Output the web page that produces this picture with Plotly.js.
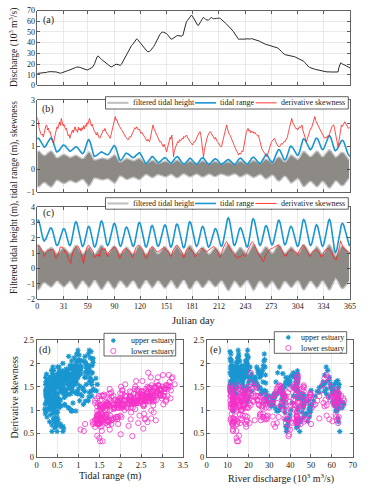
<!DOCTYPE html>
<html><head><meta charset="utf-8">
<script src="https://cdn.plot.ly/plotly-3.0.1.min.js"></script>
<style>html,body{margin:0;padding:0;background:#fff}#chart{width:368px;height:492px}</style>
</head><body><div id="chart"></div>
<script>
// ---------- DATA (daily, Julian day 0..365) ----------
const discharge = [
11.2,11.3,11.2,11.4,11.5,11.4,11.5,11.6,11.5,11.6,
11.8,12.2,12.6,12.8,12.7,12.8,12.9,12.8,12.9,13.0,
12.9,12.8,12.6,12.3,12.0,11.7,11.5,11.4,11.6,12.0,
12.3,12.6,12.9,13.2,13.5,13.7,13.9,14.2,14.3,14.5,
14.6,15.0,15.5,15.9,16.3,16.8,17.2,17.3,17.2,17.0,
16.8,16.5,16.0,15.5,15.1,14.8,14.6,14.5,14.4,14.6,
14.9,15.3,15.8,16.2,16.8,17.5,18.5,20.5,23.0,25.5,
27.0,27.6,27.0,26.0,25.0,24.3,23.6,23.0,22.3,21.5,
20.7,20.0,19.3,18.6,18.0,17.5,17.3,17.5,18.0,18.6,
19.2,19.6,19.9,19.7,19.4,19.2,18.9,18.8,19.5,21.0,
22.5,24.0,25.5,27.0,28.5,30.0,32.0,33.8,35.5,36.5,
37.3,38.0,39.0,40.2,41.5,42.8,43.5,43.0,42.0,41.0,
40.0,39.0,37.8,36.6,35.5,34.5,33.6,32.8,32.0,31.6,
31.5,31.8,32.4,33.2,34.0,35.0,36.5,38.0,39.8,41.5,
43.0,44.5,46.0,47.5,48.8,49.6,49.9,49.8,49.6,49.5,
49.2,48.5,47.5,46.3,45.0,44.0,43.4,43.2,43.8,44.6,
45.3,45.8,46.2,46.5,46.6,46.5,46.3,46.2,46.0,46.1,
47.0,50.0,54.0,57.5,59.5,60.5,61.5,63.0,64.5,65.5,
65.8,65.0,63.5,62.0,60.3,58.8,57.5,56.5,56.0,57.0,
58.5,60.0,61.5,63.2,63.8,63.0,62.0,61.4,61.2,61.0,
61.3,62.0,62.8,63.5,63.2,62.6,62.2,62.5,63.0,62.8,
62.7,63.0,63.3,63.0,62.4,61.8,61.0,60.2,59.5,58.8,
58.0,57.3,56.5,55.8,55.0,54.0,53.0,52.0,51.2,50.4,
49.0,47.8,46.5,45.0,43.6,43.0,43.3,43.6,43.4,43.2,
43.3,43.5,43.4,43.2,43.3,43.5,43.6,43.4,43.2,43.5,
43.8,43.6,43.2,43.0,42.8,42.6,42.5,42.3,42.0,41.5,
41.0,40.5,40.0,39.5,39.2,38.9,38.6,38.4,38.2,37.9,
37.7,37.5,37.3,37.2,37.0,36.7,36.4,36.1,35.8,35.5,
35.2,34.8,34.2,33.5,32.8,31.8,30.8,29.9,29.2,28.8,
28.6,28.5,28.4,28.3,28.2,28.0,27.8,27.6,27.4,27.2,
26.9,26.6,26.2,25.8,25.5,25.2,24.9,24.6,24.3,24.0,
23.4,22.6,21.6,20.5,19.5,18.6,17.8,17.2,16.8,16.4,
16.0,15.7,15.5,15.3,15.1,14.9,14.7,14.4,14.0,13.7,
13.5,13.3,13.2,13.0,12.8,12.8,12.9,12.8,12.7,12.8,
12.7,12.6,12.7,12.6,12.5,12.6,12.5,12.4,12.5,12.6,
12.5,12.6,16.5,19.8,21.0,20.8,20.0,19.6,19.4,19.0,
18.7,18.3,18.0,17.5,16.9,16.3];

// upper estuary (panel b): tidal range and derivative skewness
const rangeUpper = [
1.30,1.35,1.33,1.27,1.19,1.11,1.03,0.97,0.95,0.97,
1.01,1.07,1.15,1.23,1.29,1.33,1.35,1.32,1.24,1.12,
0.98,0.86,0.78,0.75,0.76,0.80,0.84,0.90,0.96,1.01,
1.04,1.05,1.04,1.00,0.94,0.89,0.83,0.79,0.78,0.79,
0.82,0.86,0.90,0.94,0.97,0.98,0.97,0.94,0.89,0.83,
0.77,0.73,0.69,0.68,0.71,0.79,0.91,1.05,1.17,1.25,
1.28,1.24,1.14,0.98,0.83,0.69,0.59,0.55,0.56,0.58,
0.61,0.65,0.69,0.72,0.74,0.75,0.74,0.73,0.70,0.67,
0.64,0.63,0.62,0.64,0.68,0.74,0.82,0.90,0.96,1.00,
1.02,0.99,0.90,0.77,0.63,0.50,0.41,0.38,0.40,0.44,
0.50,0.58,0.64,0.68,0.70,0.69,0.67,0.64,0.60,0.56,
0.53,0.51,0.50,0.51,0.54,0.59,0.63,0.68,0.71,0.72,
0.70,0.65,0.57,0.49,0.40,0.32,0.27,0.25,0.27,0.31,
0.37,0.43,0.49,0.54,0.55,0.54,0.50,0.44,0.39,0.33,
0.29,0.28,0.29,0.31,0.35,0.39,0.43,0.47,0.49,0.50,
0.49,0.45,0.40,0.35,0.30,0.26,0.25,0.27,0.31,0.37,
0.43,0.49,0.54,0.55,0.54,0.50,0.45,0.39,0.32,0.27,
0.23,0.22,0.23,0.27,0.32,0.38,0.43,0.47,0.48,0.47,
0.44,0.40,0.35,0.30,0.26,0.23,0.22,0.23,0.27,0.33,
0.39,0.45,0.49,0.50,0.49,0.45,0.39,0.33,0.27,0.23,
0.22,0.23,0.25,0.29,0.34,0.38,0.42,0.44,0.45,0.44,
0.41,0.36,0.31,0.26,0.23,0.22,0.23,0.25,0.28,0.32,
0.36,0.39,0.41,0.42,0.41,0.38,0.33,0.29,0.24,0.21,
0.20,0.21,0.25,0.31,0.37,0.43,0.47,0.48,0.47,0.44,
0.40,0.35,0.30,0.26,0.23,0.22,0.24,0.28,0.34,0.40,
0.46,0.51,0.52,0.51,0.48,0.44,0.39,0.33,0.29,0.26,
0.25,0.27,0.33,0.41,0.49,0.57,0.63,0.65,0.63,0.58,
0.51,0.44,0.37,0.32,0.30,0.32,0.38,0.47,0.58,0.68,
0.77,0.83,0.85,0.83,0.76,0.67,0.58,0.49,0.42,0.40,
0.43,0.51,0.63,0.77,0.89,0.97,1.00,0.98,0.94,0.88,
0.80,0.72,0.66,0.62,0.60,0.64,0.74,0.88,1.04,1.18,
1.28,1.32,1.30,1.25,1.17,1.09,1.00,0.92,0.87,0.85,
0.88,0.95,1.05,1.16,1.26,1.33,1.35,1.33,1.26,1.16,
1.05,0.95,0.88,0.85,0.87,0.94,1.04,1.15,1.26,1.36,
1.43,1.45,1.42,1.33,1.20,1.05,0.92,0.83,0.80,0.82,
0.87,0.94,1.03,1.11,1.18,1.23,1.25,1.23,1.17,1.08,
0.96,0.84,0.73,0.63,0.57,0.55];

const skewUpper = [
2.25,2.10,1.80,1.62,1.55,1.48,1.52,1.40,1.58,1.75,
1.88,1.92,1.70,1.78,1.60,1.63,1.42,1.30,1.20,1.12,
1.35,1.55,1.70,1.84,1.76,1.95,2.05,1.90,2.20,2.05,
1.88,1.95,1.80,1.72,1.77,1.58,1.45,1.50,1.34,1.48,
1.62,1.70,1.58,1.75,1.84,1.68,1.72,1.60,1.82,1.70,
1.77,1.65,1.80,1.72,1.88,1.75,1.92,1.85,2.02,1.95,
2.12,2.20,2.05,1.88,1.95,1.75,1.70,1.63,1.55,1.48,
1.60,1.42,1.38,1.34,1.45,1.55,1.62,1.70,1.66,1.77,
1.64,1.58,1.50,1.42,1.38,1.34,1.48,1.65,1.85,2.05,
2.18,2.28,2.12,2.15,2.00,1.92,1.85,1.78,1.72,1.68,
1.63,1.55,1.48,1.40,1.35,1.30,1.27,1.35,1.42,1.38,
1.48,1.58,1.66,1.72,1.80,1.75,1.84,1.78,1.70,1.74,
1.62,1.55,1.60,1.52,1.48,1.40,1.35,1.28,1.22,1.30,
1.25,1.19,1.35,1.60,1.80,1.92,1.78,1.70,1.55,1.48,
1.40,1.32,1.25,1.18,1.20,1.10,1.05,0.98,1.08,0.95,
0.85,0.76,0.92,1.10,1.25,1.38,1.30,1.48,1.05,0.54,
0.80,0.95,1.05,1.12,1.20,1.15,1.28,1.22,1.27,1.35,
1.30,1.42,1.38,1.45,1.48,1.40,1.32,1.25,1.18,1.15,
1.12,1.05,1.12,1.20,1.18,1.28,1.34,1.40,1.52,1.58,
1.63,1.45,1.10,0.75,0.54,0.82,1.05,1.15,1.34,1.45,
1.55,1.60,1.63,1.55,1.48,1.40,1.35,1.30,1.38,1.27,
1.20,1.15,1.08,1.02,0.98,0.98,1.15,1.35,1.55,1.70,
1.85,1.92,1.75,1.60,1.52,1.48,1.40,1.30,1.20,1.12,
1.02,0.92,0.85,0.75,0.68,0.62,0.70,0.65,0.72,0.80,
0.76,1.00,1.25,1.45,1.60,1.70,1.77,1.65,1.70,1.58,
1.66,1.60,1.63,1.55,1.60,1.52,1.50,1.45,1.48,1.30,
1.15,1.00,0.90,0.82,0.76,0.70,0.65,0.60,0.54,0.65,
0.80,0.95,1.05,1.15,1.22,1.28,1.30,1.34,1.22,1.10,
1.05,1.00,0.98,0.98,1.05,1.12,1.08,1.15,1.20,1.18,
1.25,1.27,1.40,1.58,1.75,1.92,2.08,2.20,2.05,1.95,
1.88,1.82,1.75,1.77,1.70,1.78,1.85,1.80,1.88,1.92,
1.70,1.55,1.40,1.28,1.19,1.30,1.45,1.55,1.68,1.77,
1.77,1.90,2.05,2.15,2.28,2.10,2.02,1.95,1.88,1.80,
1.77,1.65,1.55,1.48,1.40,1.36,1.34,1.40,1.38,1.45,
1.41,1.55,1.68,1.80,1.85,1.90,1.92,1.75,1.55,1.35,
1.15,0.98,1.20,1.45,1.70,1.92,1.85,1.95,2.00,2.06,
1.98,1.90,1.85,1.77,1.80,1.84];

// lower estuary (panel c): tidal range and derivative skewness
const rangeLower = [
3.05,3.15,3.08,2.89,2.62,2.33,2.06,1.87,1.80,1.84,
1.92,2.07,2.22,2.40,2.51,2.63,2.65,2.59,2.43,2.20,
1.95,1.72,1.56,1.50,1.54,1.67,1.84,2.05,2.26,2.44,
2.56,2.60,2.55,2.39,2.17,1.93,1.71,1.56,1.50,1.58,
1.79,2.10,2.45,2.76,2.97,3.05,2.99,2.81,2.55,2.25,
1.95,1.69,1.51,1.45,1.52,1.70,1.96,2.24,2.50,2.69,
2.75,2.68,2.49,2.22,1.93,1.66,1.47,1.40,1.47,1.66,
1.93,2.25,2.57,2.85,3.03,3.10,3.02,2.80,2.48,2.12,
1.80,1.58,1.50,1.56,1.72,1.95,2.23,2.50,2.73,2.89,
2.95,2.88,2.67,2.37,2.04,1.74,1.53,1.45,1.51,1.69,
1.94,2.21,2.46,2.64,2.70,2.65,2.51,2.31,2.08,1.84,
1.64,1.50,1.45,1.53,1.74,2.05,2.40,2.71,2.92,3.00,
2.94,2.76,2.50,2.20,1.90,1.64,1.46,1.40,1.47,1.67,
1.95,2.25,2.53,2.73,2.80,2.73,2.54,2.27,1.98,1.71,
1.52,1.45,1.51,1.66,1.88,2.15,2.42,2.64,2.79,2.85,
2.78,2.57,2.28,1.97,1.68,1.47,1.40,1.48,1.69,1.99,
2.32,2.62,2.83,2.90,2.84,2.67,2.42,2.13,1.83,1.58,
1.41,1.35,1.44,1.67,2.01,2.39,2.73,2.97,3.05,2.99,
2.81,2.55,2.25,1.95,1.69,1.51,1.45,1.52,1.70,1.96,
2.24,2.50,2.69,2.75,2.68,2.49,2.22,1.93,1.66,1.47,
1.40,1.45,1.58,1.77,2.00,2.23,2.42,2.55,2.60,2.54,
2.38,2.15,1.90,1.67,1.51,1.45,1.52,1.73,2.02,2.38,
2.73,3.02,3.23,3.30,3.21,2.96,2.60,2.20,1.84,1.59,
1.50,1.56,1.72,1.95,2.20,2.43,2.59,2.65,2.60,2.46,
2.26,2.03,1.79,1.59,1.45,1.40,1.49,1.75,2.12,2.53,
2.90,3.16,3.25,3.18,2.99,2.71,2.38,2.04,1.76,1.57,
1.50,1.57,1.75,2.01,2.29,2.55,2.74,2.80,2.74,2.56,
2.31,2.04,1.79,1.61,1.55,1.61,1.79,2.05,2.35,2.65,
2.91,3.09,3.15,3.07,2.85,2.53,2.17,1.85,1.63,1.55,
1.61,1.78,2.02,2.28,2.52,2.69,2.75,2.70,2.56,2.35,
2.10,1.85,1.65,1.50,1.45,1.54,1.78,2.13,2.52,2.87,
3.11,3.20,3.13,2.95,2.67,2.35,2.03,1.76,1.57,1.50,
1.57,1.76,2.03,2.32,2.59,2.78,2.85,2.78,2.58,2.30,
2.00,1.72,1.52,1.45,1.52,1.71,1.99,2.33,2.66,2.94,
3.13,3.20,3.09,2.79,2.36,1.89,1.46,1.16,1.05,1.13,
1.34,1.64,2.00,2.36,2.67,2.87,2.95,2.91,2.78,2.59,
2.36,2.09,1.86,1.67,1.54,1.50];

const skewLower = [
1.45,1.53,1.48,1.40,1.30,1.20,1.12,1.05,0.78,0.82,
1.05,1.12,1.18,1.15,1.22,1.20,1.25,1.22,1.28,1.20,
1.05,0.75,0.66,0.70,0.92,1.15,1.30,1.42,1.38,1.40,
1.32,1.25,1.10,1.15,1.05,0.80,0.68,0.55,0.40,0.33,
0.70,1.00,1.15,1.25,1.31,1.38,1.42,1.48,1.40,1.30,
1.18,1.00,0.72,0.45,0.33,0.75,1.05,1.25,1.40,1.48,
1.53,1.45,1.35,1.28,1.20,1.12,0.88,0.72,0.78,0.90,
0.85,0.80,0.92,0.78,1.12,1.22,1.31,1.28,1.20,1.31,
1.15,1.05,0.76,1.05,1.10,1.10,1.20,1.28,1.35,1.40,
1.42,1.38,1.30,1.18,1.05,0.78,0.64,0.70,0.85,1.10,
1.18,1.22,1.28,1.31,1.30,1.25,1.20,1.15,1.08,1.02,
0.82,0.72,0.80,1.10,1.22,1.35,1.42,1.48,1.53,1.50,
1.45,1.38,1.30,1.20,1.10,0.85,0.72,0.64,0.70,0.86,
1.12,1.22,1.32,1.38,1.42,1.40,1.32,1.25,1.18,1.12,
1.10,1.08,1.12,1.18,1.22,1.28,1.32,1.35,1.36,1.32,
1.28,1.22,1.15,1.10,0.90,0.82,0.78,0.88,1.15,1.25,
1.35,1.45,1.50,1.53,1.48,1.40,1.32,1.22,1.12,1.05,
0.80,0.70,0.82,1.10,1.20,1.28,1.31,1.35,1.30,1.25,
1.20,1.12,1.05,0.85,0.76,0.80,0.88,1.08,1.15,1.22,
1.28,1.31,1.30,1.25,1.20,1.18,1.15,1.12,1.10,1.15,
1.20,1.25,1.30,1.35,1.36,1.40,1.45,1.36,1.30,1.22,
1.15,1.05,0.85,0.72,0.78,0.90,1.20,1.35,1.50,1.62,
1.70,1.75,1.68,1.55,1.42,1.30,1.20,1.12,1.10,1.05,
0.88,0.80,0.75,0.70,0.66,0.72,0.80,0.74,0.82,0.88,
0.95,0.85,0.78,0.86,0.98,1.15,1.30,1.45,1.55,1.62,
1.70,1.75,1.70,1.60,1.45,1.32,1.20,1.10,1.00,0.80,
0.72,0.75,0.58,0.48,0.44,0.60,0.82,0.95,0.99,1.08,
1.15,1.22,1.28,1.30,1.31,1.33,1.38,1.42,1.45,1.50,
1.52,1.53,1.50,1.45,1.35,1.25,1.15,1.05,0.88,0.80,
0.86,0.82,1.05,1.12,1.18,1.20,1.22,1.18,1.20,1.15,
1.10,1.05,1.08,0.92,0.86,1.10,1.20,1.30,1.40,1.48,
1.53,1.50,1.45,1.35,1.25,1.15,1.08,0.88,0.78,0.82,
0.90,1.08,1.12,1.18,1.20,1.22,1.20,1.18,1.12,1.05,
0.88,0.78,0.75,0.82,1.05,1.12,1.20,1.25,1.28,1.31,
1.30,1.25,1.18,1.10,1.02,0.82,0.72,0.70,0.58,0.55,
0.75,1.00,1.25,1.50,1.80,1.60,1.45,1.35,1.30,1.25,
1.22,1.20,1.12,1.05,1.00,0.99];

// filtered tidal height: max / min envelope every 2 days (day 0,2,...,364)
const heightUpperMax = [
.77,.79,.72,.63,.60,.62,.70,.76,.80,.74,
.61,.51,.50,.54,.60,.64,.64,.59,.53,.51,
.53,.57,.60,.60,.56,.50,.46,.47,.57,.70,
.76,.69,.53,.42,.40,.43,.46,.49,.49,.47,
.44,.43,.46,.53,.60,.63,.57,.44,.32,.32,
.37,.44,.47,.45,.42,.38,.37,.39,.43,.47,
.47,.40,.32,.26,.26,.30,.36,.39,.37,.31,
.26,.26,.29,.33,.36,.36,.32,.27,.24,.27,
.33,.39,.39,.34,.28,.23,.23,.28,.33,.36,
.34,.29,.25,.23,.25,.31,.36,.36,.31,.25,
.23,.24,.29,.33,.34,.32,.27,.23,.23,.26,
.30,.32,.32,.28,.24,.22,.24,.30,.35,.35,
.32,.27,.23,.24,.29,.35,.38,.36,.31,.26,
.24,.28,.36,.43,.43,.37,.30,.27,.31,.41,
.50,.54,.50,.41,.33,.33,.43,.56,.62,.59,
.52,.45,.42,.49,.64,.76,.77,.70,.62,.55,
.56,.64,.75,.79,.75,.64,.56,.55,.64,.75,
.83,.83,.72,.58,.52,.55,.63,.71,.74,.70,
.60,.48,.40];
const heightUpperMin = [
-.75,-.77,-.70,-.61,-.58,-.60,-.68,-.74,-.78,-.72,
-.59,-.49,-.48,-.52,-.58,-.62,-.62,-.57,-.51,-.49,
-.51,-.55,-.58,-.58,-.54,-.48,-.44,-.45,-.55,-.68,
-.74,-.67,-.51,-.40,-.38,-.41,-.44,-.47,-.47,-.45,
-.42,-.41,-.44,-.51,-.58,-.61,-.55,-.42,-.30,-.30,
-.35,-.42,-.45,-.43,-.40,-.36,-.35,-.37,-.41,-.45,
-.45,-.38,-.30,-.24,-.24,-.28,-.34,-.37,-.35,-.29,
-.24,-.24,-.27,-.31,-.34,-.34,-.30,-.25,-.22,-.25,
-.31,-.37,-.37,-.32,-.26,-.21,-.21,-.26,-.31,-.34,
-.32,-.27,-.23,-.21,-.23,-.29,-.34,-.34,-.29,-.23,
-.21,-.22,-.27,-.31,-.32,-.30,-.25,-.21,-.21,-.24,
-.28,-.30,-.30,-.26,-.22,-.20,-.22,-.28,-.33,-.33,
-.30,-.25,-.21,-.22,-.27,-.33,-.36,-.34,-.29,-.24,
-.22,-.26,-.34,-.41,-.41,-.35,-.28,-.25,-.29,-.39,
-.48,-.52,-.48,-.39,-.31,-.31,-.41,-.54,-.60,-.57,
-.50,-.43,-.40,-.47,-.62,-.74,-.75,-.68,-.60,-.53,
-.54,-.62,-.73,-.77,-.73,-.62,-.54,-.53,-.62,-.73,
-.81,-.81,-.70,-.56,-.50,-.53,-.61,-.69,-.72,-.68,
-.58,-.46,-.38];
const heightLowerMax = [
1.52,1.53,1.37,1.17,1.08,1.12,1.23,1.33,1.38,1.30,
1.13,1.00,0.99,1.09,1.24,1.35,1.34,1.21,1.05,0.98,
1.08,1.31,1.49,1.50,1.34,1.13,0.98,0.98,1.14,1.33,
1.41,1.32,1.13,0.96,0.96,1.13,1.35,1.51,1.51,1.32,
1.08,0.98,1.05,1.23,1.41,1.48,1.38,1.16,0.99,0.98,
1.13,1.31,1.40,1.33,1.18,1.02,0.96,1.06,1.29,1.47,
1.48,1.33,1.12,0.96,0.96,1.13,1.34,1.43,1.34,1.14,
0.98,0.98,1.11,1.30,1.43,1.42,1.25,1.04,0.94,1.04,
1.26,1.44,1.44,1.30,1.09,0.94,0.95,1.15,1.41,1.52,
1.43,1.24,1.04,0.96,1.05,1.23,1.39,1.39,1.23,1.03,
0.94,1.00,1.15,1.30,1.36,1.28,1.12,0.98,0.98,1.16,
1.41,1.58,1.57,1.36,1.09,0.98,1.05,1.22,1.36,1.36,
1.24,1.08,0.96,0.97,1.19,1.47,1.59,1.50,1.28,1.07,
0.98,1.06,1.25,1.41,1.41,1.26,1.08,0.99,1.08,1.27,
1.47,1.55,1.45,1.21,1.02,1.01,1.16,1.33,1.41,1.35,
1.19,1.03,0.96,1.07,1.33,1.54,1.55,1.38,1.16,1.00,
1.00,1.16,1.36,1.45,1.35,1.15,0.98,0.98,1.15,1.38,
1.55,1.53,1.28,0.96,0.82,0.92,1.15,1.38,1.48,1.42,
1.28,1.10,0.99];
const heightLowerMin = [
-1.37,-1.38,-1.22,-1.02,-0.93,-0.97,-1.08,-1.18,-1.23,-1.15,
-0.98,-0.85,-0.84,-0.94,-1.09,-1.20,-1.19,-1.06,-0.90,-0.83,
-0.93,-1.16,-1.34,-1.35,-1.19,-0.98,-0.83,-0.83,-0.99,-1.18,
-1.26,-1.17,-0.98,-0.81,-0.81,-0.98,-1.20,-1.36,-1.36,-1.17,
-0.93,-0.83,-0.90,-1.08,-1.26,-1.33,-1.23,-1.01,-0.84,-0.83,
-0.98,-1.16,-1.25,-1.18,-1.03,-0.87,-0.81,-0.91,-1.14,-1.32,
-1.33,-1.18,-0.97,-0.81,-0.81,-0.98,-1.19,-1.28,-1.19,-0.99,
-0.83,-0.83,-0.96,-1.15,-1.28,-1.27,-1.10,-0.89,-0.79,-0.89,
-1.11,-1.29,-1.29,-1.15,-0.94,-0.79,-0.80,-1.00,-1.26,-1.37,
-1.28,-1.09,-0.89,-0.81,-0.90,-1.08,-1.24,-1.24,-1.08,-0.88,
-0.79,-0.85,-1.00,-1.15,-1.21,-1.13,-0.97,-0.83,-0.83,-1.01,
-1.26,-1.43,-1.42,-1.21,-0.94,-0.83,-0.90,-1.07,-1.21,-1.21,
-1.09,-0.93,-0.81,-0.82,-1.04,-1.32,-1.44,-1.35,-1.13,-0.92,
-0.83,-0.91,-1.10,-1.26,-1.26,-1.11,-0.93,-0.84,-0.93,-1.12,
-1.32,-1.40,-1.30,-1.06,-0.87,-0.86,-1.01,-1.18,-1.26,-1.20,
-1.04,-0.88,-0.81,-0.92,-1.18,-1.39,-1.40,-1.23,-1.01,-0.85,
-0.85,-1.01,-1.21,-1.30,-1.20,-1.00,-0.83,-0.83,-1.00,-1.23,
-1.40,-1.38,-1.13,-0.81,-0.67,-0.77,-1.00,-1.23,-1.33,-1.27,
-1.13,-0.95,-0.84];

const dayTicks = [0,31,59,90,120,151,181,212,243,273,304,334,365];
const lineNames = ['filtered tidal height','tidal range','derivative skewness'];
const groupNames = ['upper estuary','lower estuary'];

// ---------- STYLE ----------
const W = 368, H = 492;
const X = px => px / W, Y = py => 1 - py / H;
const FONT = 'Liberation Serif, Times New Roman, serif';
const C_GRAY_EDGE = '#c3c3c3', C_GRAY_FILL = '#8d8985';
const C_BLUE = '#1a96d0', C_RED = '#ff2020', C_MAG = '#f531c8';
const TXT = '#222';

const days = discharge.map((_, i) => i);
const envDays = heightUpperMax.map((_, i) => 2 * i);

const traces = [];
// (a)
traces.push({x: days, y: discharge, xaxis: 'x', yaxis: 'y', mode: 'lines',
  line: {color: '#2a2a2a', width: 1}, showlegend: false});
// (b) and (c)
function tidePanel(xa, ya, hMin, hMax, rng, skw) {
  traces.push({x: envDays, y: hMin, xaxis: xa, yaxis: ya, mode: 'lines',
    line: {color: C_GRAY_EDGE, width: 1.4}, showlegend: false});
  traces.push({x: envDays, y: hMax, xaxis: xa, yaxis: ya, mode: 'lines', fill: 'tonexty',
    fillcolor: C_GRAY_FILL, line: {color: C_GRAY_EDGE, width: 1.4}, showlegend: false});
  traces.push({x: days, y: rng, xaxis: xa, yaxis: ya, mode: 'lines',
    line: {color: C_BLUE, width: 1.6}, showlegend: false});
  traces.push({x: days, y: skw, xaxis: xa, yaxis: ya, mode: 'lines',
    line: {color: C_RED, width: 0.8}, showlegend: false});
}
tidePanel('x2', 'y2', heightUpperMin, heightUpperMax, rangeUpper, skewUpper);
tidePanel('x3', 'y3', heightLowerMin, heightLowerMax, rangeLower, skewLower);
// (d) and (e)
const upMarker = {symbol: 'asterisk-open', size: 4.5, color: C_BLUE, line: {color: C_BLUE, width: 1.1}};
const loMarker = {symbol: 'circle-open', size: 5.2, color: C_MAG, line: {color: C_MAG, width: 0.8}};
traces.push({x: rangeUpper, y: skewUpper, xaxis: 'x4', yaxis: 'y4', mode: 'markers', marker: upMarker, showlegend: false});
traces.push({x: rangeLower, y: skewLower, xaxis: 'x4', yaxis: 'y4', mode: 'markers', marker: loMarker, showlegend: false});
traces.push({x: discharge, y: skewUpper, xaxis: 'x5', yaxis: 'y5', mode: 'markers', marker: upMarker, showlegend: false});
traces.push({x: discharge, y: skewLower, xaxis: 'x5', yaxis: 'y5', mode: 'markers', marker: loMarker, showlegend: false});

function ax(extra) {
  return Object.assign({
    showline: true, linecolor: '#3a3a3a', linewidth: 0.8, mirror: 'ticks',
    ticks: 'inside', ticklen: 3, tickwidth: 0.8, tickcolor: '#3a3a3a',
    showgrid: true, gridcolor: '#e1e1e1', gridwidth: 0.7, zeroline: false,
    tickfont: {family: FONT, size: 8, color: TXT}, fixedrange: true
  }, extra);
}
const xd = [X(37.3), X(350)];
const tf2 = {family: FONT, size: 8.5, color: TXT};
const layout = {
  width: W, height: H, margin: {l: 0, r: 0, t: 0, b: 0},
  paper_bgcolor: '#fff', plot_bgcolor: '#fff', showlegend: false,
  font: {family: FONT, color: TXT},
  xaxis:  ax({domain: xd, anchor: 'y',  range: [0, 365], tickvals: dayTicks, showticklabels: false}),
  yaxis:  ax({domain: [Y(85.4), Y(10.6)], anchor: 'x', range: [0, 70], dtick: 10}),
  xaxis2: ax({domain: xd, anchor: 'y2', range: [0, 365], tickvals: dayTicks, showticklabels: false}),
  yaxis2: ax({domain: [Y(192.3), Y(100)], anchor: 'x2', range: [-1, 3], dtick: 1}),
  xaxis3: ax({domain: xd, anchor: 'y3', range: [0, 365], tickvals: dayTicks}),
  yaxis3: ax({domain: [Y(299), Y(207.3)], anchor: 'x3', range: [-2, 4], dtick: 1}),
  xaxis4: ax({domain: [X(36.5), X(183)], anchor: 'y4', range: [0, 3.5], dtick: 0.5, tickfont: tf2}),
  yaxis4: ax({domain: [Y(456.7), Y(340)], anchor: 'x4', range: [0, 2.5], dtick: 0.5, tickfont: tf2}),
  xaxis5: ax({domain: [X(206.7), X(352.7)], anchor: 'y5', range: [0, 70], dtick: 10, tickfont: tf2}),
  yaxis5: ax({domain: [Y(456.7), Y(340)], anchor: 'x5', range: [0, 2.5], dtick: 0.5, tickfont: tf2}),
  shapes: [], annotations: []
};

function text(t, px, py, size, opts) {
  layout.annotations.push(Object.assign({text: t, x: X(px), y: Y(py), xref: 'paper', yref: 'paper',
    showarrow: false, font: {family: FONT, size: size, color: TXT}, xanchor: 'center', yanchor: 'middle', borderpad: 0}, opts || {}));
}
// axis titles
text('Discharge (10<sup>3</sup> m<sup>3</sup>/s)', 14, 48, 9.5, {textangle: -90});
text('Filtered tidal height (m), tidal range (m), skewness', 14, 198, 9.5, {textangle: -90});
text('Julian day', 193.6, 320, 10.5);
text('Derivative skewness', 13.5, 397, 10, {textangle: -90});
text('Tidal range (m)', 110, 476, 10);
text('River discharge (10<sup>3</sup> m<sup>3</sup>/s)', 280.5, 478, 10);
// panel letters
text('(a)', 48.5, 20.5, 10);
text('(b)', 48, 109.5, 10);
text('(c)', 48, 212.5, 10);
text('(d)', 45, 350, 10);
text('(e)', 215.7, 349.7, 10);

// legends drawn as layout decoration
function box(x0, y0, x1, y1) {
  layout.shapes.push({type: 'rect', xref: 'paper', yref: 'paper', x0: X(x0), x1: X(x1), y0: Y(y1), y1: Y(y0),
    line: {color: '#3a3a3a', width: 0.8}, fillcolor: '#fff', layer: 'above'});
}
function seg(x0, y0, x1, y1, color, width) {
  layout.shapes.push({type: 'line', xref: 'paper', yref: 'paper', x0: X(x0), x1: X(x1), y0: Y(y0), y1: Y(y1),
    line: {color: color, width: width}, layer: 'above'});
}
function lineLegend(top, bottom) {
  box(105.5, top, 348.3, bottom);
  const cy = (top + bottom) / 2;
  const cols = [C_GRAY_EDGE, C_BLUE, C_RED], widths = [2.2, 1.6, 0.9];
  const lx = [107.5, 195, 255.5], tx = [131.5, 218.5, 280];
  for (let i = 0; i < 3; i++) {
    seg(lx[i], cy, lx[i] + 21, cy, cols[i], widths[i]);
    text(lineNames[i], tx[i], cy, 8, {xanchor: 'left'});
  }
}
lineLegend(96.7, 109);
lineLegend(197.7, 209.2);

function asterisk(cx, cy) {
  const r = 2.3, d = 1.6;
  seg(cx - r, cy, cx + r, cy, C_BLUE, 1.1);
  seg(cx, cy - r, cx, cy + r, C_BLUE, 1.1);
  seg(cx - d, cy - d, cx + d, cy + d, C_BLUE, 1.1);
  seg(cx - d, cy + d, cx + d, cy - d, C_BLUE, 1.1);
}
function ring(cx, cy) {
  const r = 2.6;
  layout.shapes.push({type: 'circle', xref: 'paper', yref: 'paper', x0: X(cx - r), x1: X(cx + r), y0: Y(cy + r), y1: Y(cy - r),
    line: {color: C_MAG, width: 0.8}, layer: 'above'});
}
function markerLegend(x0, y0, x1, y1, mx, tx, r1, r2) {
  box(x0, y0, x1, y1);
  asterisk(mx, r1); text(groupNames[0], tx, r1, 8, {xanchor: 'left'});
  ring(mx, r2);     text(groupNames[1], tx, r2, 8, {xanchor: 'left'});
}
markerLegend(104, 333.3, 175.7, 356, 113.3, 129.5, 340.6, 351);
markerLegend(274.3, 331.7, 346.7, 353.3, 288.3, 300.2, 337.4, 348);

Plotly.newPlot('chart', traces, layout, {staticPlot: true, displayModeBar: false});
</script>
</body></html>
